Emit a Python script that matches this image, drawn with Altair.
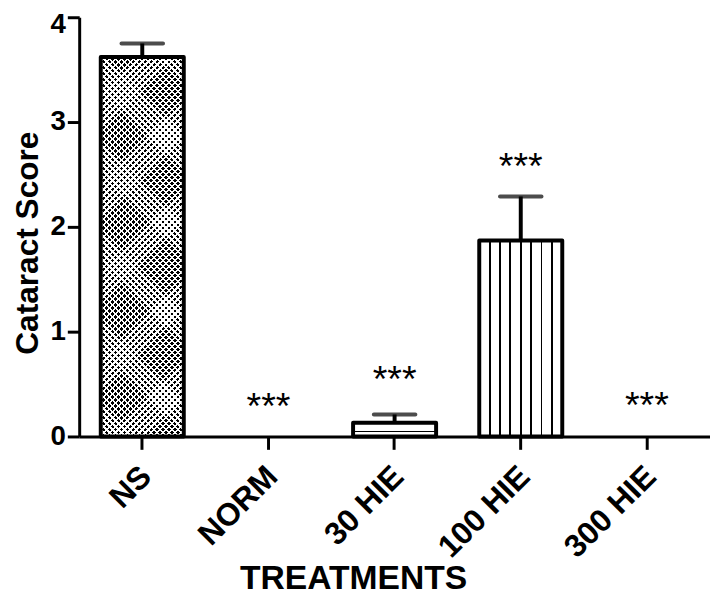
import altair as alt
import pandas as pd

# ---- data ----
categories = ["NS", "NORM", "30 HIE", "100 HIE", "300 HIE"]
mean_score = [3.62, 0.0, 0.13, 1.87, 0.0]
sem_score = [0.13, 0.0, 0.08, 0.42, 0.0]

star_categories = ["NORM", "30 HIE", "100 HIE", "300 HIE"]
star_level = [0.35, 0.60, 2.64, 0.36]
star_text = ["***", "***", "***", "***"]

y_ticks = [0, 1, 2, 3, 4]

df = pd.DataFrame({"cat": categories, "mean": mean_score, "sem": sem_score})
stars = pd.DataFrame({"cat": star_categories, "y": star_level, "t": star_text})

# ---- layout constants ----
W, H = 638, 424
PAD_IN, PAD_OUT = 0.342, 0.171
step = W / (len(categories) - PAD_IN + 2 * PAD_OUT)
band = step * (1 - PAD_IN)
FONT = "Liberation Sans"


def stripes(n, duty, on, off):
    out = []
    for k in range(n):
        a, b, c = k / n, (k + duty) / n, (k + 1) / n
        out += [(a, on), (b, on), (b, off), (c, off)]
    return [{"offset": round(o, 6), "color": col} for o, col in out]


# NS: staggered dot texture from two crossing 45-degree stripe sets
PERIOD = 6
bw = band
bh = mean_score[0] / 4 * H
n_diag = int((bw + bh) // PERIOD) + 1
L = n_diag * PERIOD
kk = L / (bw * bw + bh * bh)
ns_diag_a = {"gradient": "linear", "x1": 0, "y1": 0, "x2": kk * bw, "y2": kk * bh,
             "stops": stripes(n_diag, 0.6, "#000000", "#ffffff")}
ns_diag_b = {"gradient": "linear", "x1": 1, "y1": 0, "x2": 1 - kk * bw, "y2": kk * bh,
             "stops": stripes(n_diag, 0.6, "rgba(255,255,255,0)", "#ffffff")}

# 100 HIE: thin vertical lines
vl = [{"offset": 0, "color": "#ffffff"}]
t = 0.022
for i in range(1, 8):
    p = i / 8
    vl += [{"offset": round(p - t / 2, 4), "color": "#ffffff"},
           {"offset": round(p - t / 2, 4), "color": "#000000"},
           {"offset": round(p + t / 2, 4), "color": "#000000"},
           {"offset": round(p + t / 2, 4), "color": "#ffffff"}]
vl.append({"offset": 1, "color": "#ffffff"})
hie100_fill = {"gradient": "linear", "x1": 0, "y1": 0, "x2": 1, "y2": 0, "stops": vl}

# 30 HIE: one horizontal line
hie30_fill = {"gradient": "linear", "x1": 0, "y1": 0, "x2": 0, "y2": 1, "stops": [
    {"offset": 0, "color": "#ffffff"}, {"offset": 0.57, "color": "#ffffff"},
    {"offset": 0.57, "color": "#000000"}, {"offset": 0.69, "color": "#000000"},
    {"offset": 0.69, "color": "#ffffff"}, {"offset": 1, "color": "#ffffff"}]}

x_axis = alt.Axis(title="TREATMENTS", labelAngle=-45, labelAlign="right",
                  labelBaseline="middle", labelPadding=22, labelOffset=4,
                  labelFontSize=32, labelFont=FONT, labelFontWeight="bold",
                  titleFontSize=34, titleFont=FONT, titleFontWeight="bold",
                  titleX=277, titleY=154, titleAlign="center",
                  titleBaseline="alphabetic", tickSize=13, grid=False)
y_axis = alt.Axis(title="Cataract Score", values=y_ticks, format="d",
                  labelFontSize=28, labelFont=FONT, labelFontWeight="bold",
                  labelPadding=2, tickSize=12, grid=False,
                  labelOffset={"condition": {"test": "datum.value == 4", "value": 7},
                               "value": 0},
                  titleFontSize=32, titleFont=FONT, titleFontWeight="bold",
                  titleX=-42, titleY=228, titleAngle=270,
                  titleBaseline="alphabetic", titleAlign="center")
x_scale = alt.Scale(domain=categories, paddingInner=PAD_IN, paddingOuter=PAD_OUT)
y_scale = alt.Scale(domain=[0, 4], nice=False)


def xq():
    return alt.X("cat:N", sort=categories, scale=x_scale, axis=x_axis)


def yq(field):
    return alt.Y(field, scale=y_scale, axis=y_axis)


base = alt.Chart(df).encode(x=xq(), y=yq("mean:Q"))

ns_a = base.transform_filter(alt.datum.cat == "NS").mark_bar(fill=ns_diag_a, strokeWidth=0)
ns_b = base.transform_filter(alt.datum.cat == "NS").mark_bar(fill=ns_diag_b, strokeWidth=0)
h30 = base.transform_filter(alt.datum.cat == "30 HIE").mark_bar(fill=hie30_fill, strokeWidth=0)
h100 = base.transform_filter(alt.datum.cat == "100 HIE").mark_bar(fill=hie100_fill, strokeWidth=0)
outline = base.transform_filter(alt.datum.mean > 0).mark_bar(
    fillOpacity=0, stroke="#000000", strokeWidth=4, strokeJoin="round")

err = alt.Chart(df).transform_filter(alt.datum.sem > 0).transform_calculate(
    upper="datum.mean + datum.sem")
err_line = err.mark_rule(color="#000000", strokeWidth=4).encode(
    x=xq(), y=yq("mean:Q"), y2="upper:Q")
err_cap = err.mark_tick(color="#000000", orient="horizontal", size=46, thickness=4,
                        cornerRadius=2).encode(x=xq(), y=yq("upper:Q"))

star_layer = alt.Chart(stars).mark_text(
    font=FONT, fontSize=38, color="#000000", baseline="alphabetic", dy=19).encode(
    x=xq(), y=yq("y:Q"), text="t:N")

chart = alt.layer(ns_a, ns_b, h30, h100, outline, err_line, err_cap, star_layer).properties(
    width=W, height=H,
    background="#ffffff",
    autosize=alt.AutoSizeParams(type="none"),
    padding={"left": 72, "top": 6, "right": 0, "bottom": 158},
).configure_axis(
    domainColor="#000000", domainWidth=3, tickColor="#000000", tickWidth=3,
    labelColor="#000000", titleColor="#000000", grid=False,
).configure_view(strokeWidth=0)

chart.save("out.html", embed_options={"renderer": "svg", "actions": False})
